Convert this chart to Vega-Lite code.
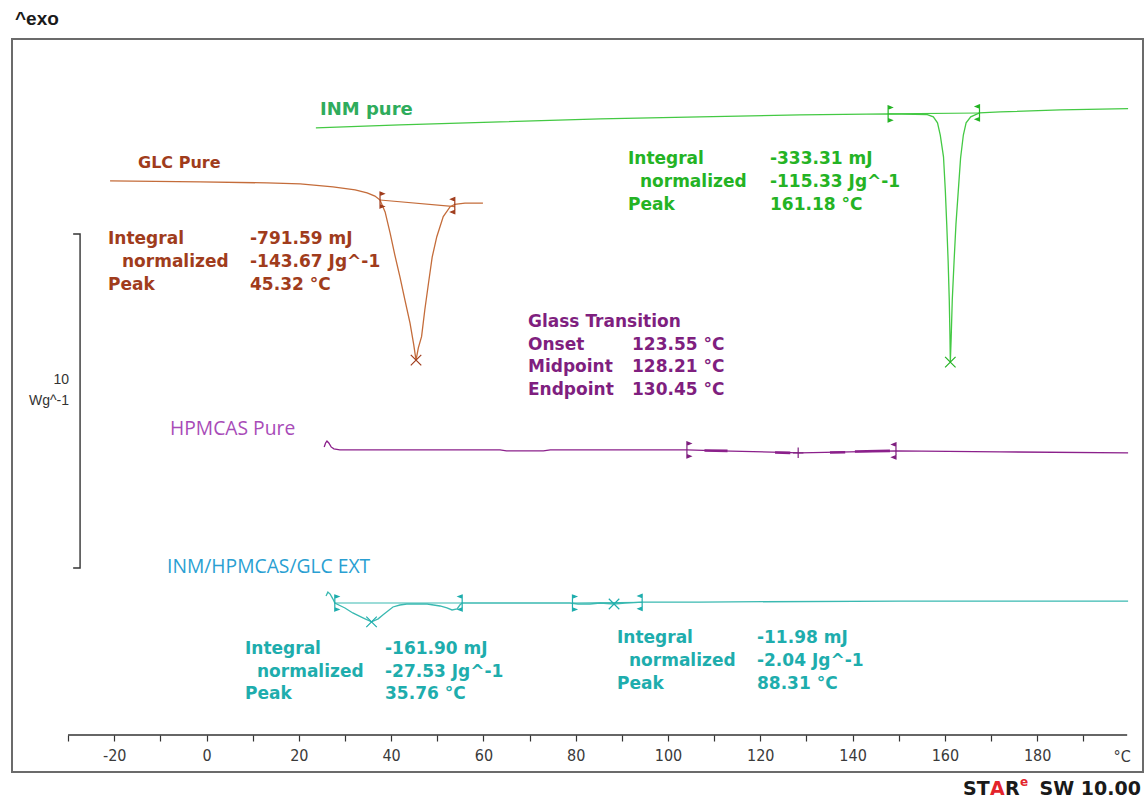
{
 "$schema": "https://vega.github.io/schema/vega-lite/v6.json",
 "width": 1131,
 "height": 733,
 "autosize": {"type": "none"},
 "padding": {"left": 12, "top": 39, "right": 2, "bottom": 28},
 "background": "white",
 "config": {"view": {"stroke": "#6b6b6b", "strokeWidth": 2}},
 "datasets": {
  "curves": [
   {"s":"GLC","T":-20.9,"y":17.91},{"s":"GLC","T":-1.4,"y":17.88},{"s":"GLC","T":13.1,"y":17.85},{"s":"GLC","T":20.3,"y":17.82},{"s":"GLC","T":27.4,"y":17.73},{"s":"GLC","T":32.2,"y":17.64},{"s":"GLC","T":34.8,"y":17.55},{"s":"GLC","T":36.5,"y":17.45},{"s":"GLC","T":37.6,"y":17.33},{"s":"GLC","T":38.7,"y":16.97},{"s":"GLC","T":39.8,"y":16.32},{"s":"GLC","T":40.8,"y":15.67},{"s":"GLC","T":41.9,"y":15.01},{"s":"GLC","T":43.0,"y":14.3},{"s":"GLC","T":44.1,"y":13.6},{"s":"GLC","T":44.9,"y":12.95},{"s":"GLC","T":45.4,"y":12.48},{"s":"GLC","T":45.9,"y":12.85},{"s":"GLC","T":46.6,"y":13.19},{"s":"GLC","T":47.3,"y":14.0},{"s":"GLC","T":48.1,"y":14.81},{"s":"GLC","T":48.9,"y":15.6},{"s":"GLC","T":49.9,"y":16.22},{"s":"GLC","T":51.3,"y":16.83},{"s":"GLC","T":52.8,"y":17.13},{"s":"GLC","T":53.8,"y":17.2},{"s":"GLC","T":56,"y":17.24},{"s":"GLC","T":59.9,"y":17.24},
   {"s":"INM","T":23.7,"y":19.52},{"s":"INM","T":41.9,"y":19.61},{"s":"INM","T":63.6,"y":19.7},{"s":"INM","T":85.3,"y":19.79},{"s":"INM","T":106.9,"y":19.85},{"s":"INM","T":128.6,"y":19.91},{"s":"INM","T":147.7,"y":19.94},{"s":"INM","T":156.2,"y":19.92},{"s":"INM","T":157.5,"y":19.85},{"s":"INM","T":158.4,"y":19.67},{"s":"INM","T":159.0,"y":19.3},{"s":"INM","T":159.7,"y":18.64},{"s":"INM","T":160.1,"y":17.6},{"s":"INM","T":160.4,"y":16.6},{"s":"INM","T":160.7,"y":15.5},{"s":"INM","T":160.95,"y":14.3},{"s":"INM","T":161.1,"y":13.2},{"s":"INM","T":161.18,"y":12.42},{"s":"INM","T":161.35,"y":13.1},{"s":"INM","T":161.6,"y":14.3},{"s":"INM","T":162.0,"y":15.5},{"s":"INM","T":162.4,"y":16.6},{"s":"INM","T":162.9,"y":17.6},{"s":"INM","T":163.4,"y":18.6},{"s":"INM","T":164.0,"y":19.3},{"s":"INM","T":164.6,"y":19.67},{"s":"INM","T":165.6,"y":19.85},{"s":"INM","T":167.5,"y":19.97},{"s":"INM","T":172,"y":20.0},{"s":"INM","T":185,"y":20.06},{"s":"INM","T":199.7,"y":20.1},
   {"s":"HPM","T":25.5,"y":9.85},{"s":"HPM","T":25.8,"y":9.97},{"s":"HPM","T":26.1,"y":10.03},{"s":"HPM","T":26.5,"y":9.97},{"s":"HPM","T":27.0,"y":9.85},{"s":"HPM","T":27.6,"y":9.79},{"s":"HPM","T":28.9,"y":9.76},{"s":"HPM","T":63.6,"y":9.76},{"s":"HPM","T":65,"y":9.73},{"s":"HPM","T":73,"y":9.73},{"s":"HPM","T":74.5,"y":9.76},{"s":"HPM","T":104.1,"y":9.76},{"s":"HPM","T":111.3,"y":9.73},{"s":"HPM","T":128.6,"y":9.67},{"s":"HPM","T":139.4,"y":9.7},{"s":"HPM","T":149.4,"y":9.73},{"s":"HPM","T":171.9,"y":9.7},{"s":"HPM","T":199.7,"y":9.67},
   {"s":"EXT","T":25.9,"y":5.33},{"s":"EXT","T":26.3,"y":5.45},{"s":"EXT","T":26.8,"y":5.39},{"s":"EXT","T":27.4,"y":5.24},{"s":"EXT","T":27.8,"y":5.12},{"s":"EXT","T":30.0,"y":4.97},{"s":"EXT","T":31.7,"y":4.82},{"s":"EXT","T":33.9,"y":4.67},{"s":"EXT","T":35.76,"y":4.55},{"s":"EXT","T":37.2,"y":4.64},{"s":"EXT","T":38.2,"y":4.76},{"s":"EXT","T":39.3,"y":4.88},{"s":"EXT","T":40.4,"y":5.0},{"s":"EXT","T":41.9,"y":5.06},{"s":"EXT","T":43.4,"y":5.09},{"s":"EXT","T":47.8,"y":5.09},{"s":"EXT","T":50.6,"y":5.03},{"s":"EXT","T":52.1,"y":4.97},{"s":"EXT","T":53.2,"y":4.91},{"s":"EXT","T":54.3,"y":4.94},{"s":"EXT","T":54.9,"y":5.06},{"s":"EXT","T":55.4,"y":5.12},{"s":"EXT","T":56.4,"y":5.12},{"s":"EXT","T":78.8,"y":5.12},{"s":"EXT","T":80.5,"y":5.09},{"s":"EXT","T":83.1,"y":5.09},{"s":"EXT","T":85.3,"y":5.12},{"s":"EXT","T":88.3,"y":5.09},{"s":"EXT","T":90.7,"y":5.12},{"s":"EXT","T":94.4,"y":5.15},{"s":"EXT","T":106.9,"y":5.15},{"s":"EXT","T":150.3,"y":5.18},{"s":"EXT","T":199.7,"y":5.18}
  ],
  "baselines": [
   {"s":"GLC","g":"g1","T":37.6,"y":17.33},{"s":"GLC","g":"g1","T":53.8,"y":17.13},
   {"s":"INM","g":"i1","T":147.7,"y":19.94},{"s":"INM","g":"i1","T":167.5,"y":19.97},
   {"s":"EXT","g":"e1","T":27.8,"y":5.12},{"s":"EXT","g":"e1","T":55.4,"y":5.12},
   {"s":"EXT","g":"e2","T":79.3,"y":5.12},{"s":"EXT","g":"e2","T":94.4,"y":5.14}
  ],
  "tangents": [
   {"s":"HPM","g":"t1","T":107.9,"y":9.74},{"s":"HPM","g":"t1","T":112.9,"y":9.73},
   {"s":"HPM","g":"t2","T":123.2,"y":9.68},{"s":"HPM","g":"t2","T":126.5,"y":9.67},
   {"s":"HPM","g":"t3","T":135.1,"y":9.68},{"s":"HPM","g":"t3","T":138.4,"y":9.69},
   {"s":"HPM","g":"t4","T":140.5,"y":9.71},{"s":"HPM","g":"t4","T":148.1,"y":9.73}
  ],
  "limits": [
   {"s":"GLC","kind":"L","T":37.6,"y":17.33},{"s":"GLC","kind":"R","T":53.8,"y":17.16},
   {"s":"INM","kind":"L","T":147.7,"y":19.94},{"s":"INM","kind":"R","T":167.5,"y":19.97},
   {"s":"HPM","kind":"L","T":104.1,"y":9.76},{"s":"HPM","kind":"R","T":149.4,"y":9.73},
   {"s":"EXT","kind":"L","T":27.8,"y":5.12},{"s":"EXT","kind":"R","T":55.4,"y":5.12},
   {"s":"EXT","kind":"L","T":79.3,"y":5.12},{"s":"EXT","kind":"R","T":94.4,"y":5.14}
  ],
  "peaks": [
   {"s":"GLC","kind":"X","T":45.4,"y":12.48},{"s":"INM","kind":"X","T":161.18,"y":12.42},
   {"s":"EXT","kind":"X","T":35.76,"y":4.55},{"s":"EXT","kind":"X","T":88.31,"y":5.09},
   {"s":"HPM","kind":"P","T":128.21,"y":9.67}
  ],
  "scalebar": [
   {"T":-28.9,"y":16.3,"i":0},{"T":-27.4,"y":16.3,"i":1},{"T":-27.4,"y":6.18,"i":2},{"T":-28.9,"y":6.18,"i":3}
  ],
  "axisline": [{"T":-30,"T2":199.5,"y":1.12}],
  "texts": [
   {"k":"ann","c":"GLC-t","t":"Integral","T":-21.34,"y":16.15},
   {"k":"ann","c":"GLC-t","t":"normalized","T":-18.31,"y":15.45},
   {"k":"ann","c":"GLC-t","t":"Peak","T":-21.34,"y":14.76},
   {"k":"ann","c":"GLC-t","t":"-791.59 mJ","T":9.43,"y":16.15},
   {"k":"ann","c":"GLC-t","t":"-143.67 Jg^-1","T":9.43,"y":15.45},
   {"k":"ann","c":"GLC-t","t":"45.32 °C","T":9.43,"y":14.76},
   {"k":"ann","c":"INM-t","t":"Integral","T":91.33,"y":18.58},
   {"k":"ann","c":"INM-t","t":"normalized","T":93.93,"y":17.88},
   {"k":"ann","c":"INM-t","t":"Peak","T":91.33,"y":17.18},
   {"k":"ann","c":"INM-t","t":"-333.31 mJ","T":122.1,"y":18.58},
   {"k":"ann","c":"INM-t","t":"-115.33 Jg^-1","T":122.1,"y":17.88},
   {"k":"ann","c":"INM-t","t":"161.18 °C","T":122.1,"y":17.18},
   {"k":"ann","c":"HPM-t","t":"Glass Transition","T":69.66,"y":13.64},
   {"k":"ann","c":"HPM-t","t":"Onset","T":69.66,"y":12.94},
   {"k":"ann","c":"HPM-t","t":"Midpoint","T":69.66,"y":12.27},
   {"k":"ann","c":"HPM-t","t":"Endpoint","T":69.66,"y":11.58},
   {"k":"ann","c":"HPM-t","t":"123.55 °C","T":92.2,"y":12.94},
   {"k":"ann","c":"HPM-t","t":"128.21 °C","T":92.2,"y":12.27},
   {"k":"ann","c":"HPM-t","t":"130.45 °C","T":92.2,"y":11.58},
   {"k":"ann","c":"EXT-t","t":"Integral","T":8.34,"y":3.73},
   {"k":"ann","c":"EXT-t","t":"normalized","T":10.94,"y":3.03},
   {"k":"ann","c":"EXT-t","t":"Peak","T":8.34,"y":2.36},
   {"k":"ann","c":"EXT-t","t":"-161.90 mJ","T":38.68,"y":3.73},
   {"k":"ann","c":"EXT-t","t":"-27.53 Jg^-1","T":38.68,"y":3.03},
   {"k":"ann","c":"EXT-t","t":"35.76 °C","T":38.68,"y":2.36},
   {"k":"ann","c":"EXT-t","t":"Integral","T":88.95,"y":4.06},
   {"k":"ann","c":"EXT-t","t":"normalized","T":91.55,"y":3.36},
   {"k":"ann","c":"EXT-t","t":"Peak","T":88.95,"y":2.67},
   {"k":"ann","c":"EXT-t","t":"-11.98 mJ","T":119.28,"y":4.06},
   {"k":"ann","c":"EXT-t","t":"-2.04 Jg^-1","T":119.28,"y":3.36},
   {"k":"ann","c":"EXT-t","t":"88.31 °C","T":119.28,"y":2.67},
   {"k":"lab1","c":"GLC-t","t":"GLC Pure","T":-14.84,"y":18.45},
   {"k":"lab2","c":"INM-l","t":"INM pure","T":24.6,"y":20.06},
   {"k":"lab3","c":"HPM-l","t":"HPMCAS Pure","T":-7.91,"y":10.39},
   {"k":"lab3","c":"EXT-l","t":"INM/HPMCAS/GLC EXT","T":-8.56,"y":6.21},
   {"k":"bar","c":"G","t":"10","T":-29.8,"y":11.88},
   {"k":"bar","c":"G","t":"Wg^-1","T":-29.8,"y":11.24},
   {"k":"exo","c":"K","t":"^exo","T":-41.5,"y":22.82},
   {"k":"deg","c":"G","t":"°C","T":198.4,"y":0.45},
   {"k":"star","c":"K","t":"ST","T":163.92,"y":-0.515},
   {"k":"star","c":"R","t":"A","T":169.77,"y":-0.515},
   {"k":"star","c":"K","t":"R","T":173.02,"y":-0.515},
   {"k":"starE","c":"R","t":"e","T":176.27,"y":-0.3},
   {"k":"starR","c":"K","t":"SW 10.00","T":202.49,"y":-0.515}
  ]
 },
 "encoding": {
  "x": {"field":"T","type":"quantitative","scale":{"domain":[-42.15,202.93],"nice":false,"zero":false},
        "axis":{"orient":"bottom","offset":-37,"values":[-30,-20,-10,0,10,20,30,40,50,60,70,80,90,100,110,120,130,140,150,160,170,180,190],
                "domain":false,"grid":false,"tickSize":6,"tickColor":"#333333","tickWidth":1.2,
                "labelExpr":"(datum.value % 20 == 0 && datum.value >= -20) ? ('' + datum.value) : ''",
                "labelFont":"Liberation Sans Narrow, DejaVu Sans Condensed, Liberation Sans","labelFontSize":16,"labelColor":"#3a3a3a",
                "labelPadding":6,"labelOverlap":false,"labelFlush":false,"labelBound":false,"title":null}},
  "y": {"field":"y","type":"quantitative","scale":{"domain":[0,22.21],"nice":false,"zero":false},"axis":null}
 },
 "layer": [
  {"data":{"name":"axisline"},"mark":{"type":"rule","color":"#333333","strokeWidth":1.6},"encoding":{"x2":{"field":"T2"}}},
  {"data":{"name":"scalebar"},"mark":{"type":"line","color":"#333333","strokeWidth":1.4},"encoding":{"order":{"field":"i","type":"quantitative"}}},
  {"data":{"name":"baselines"},"mark":{"type":"line","strokeWidth":1.1},
   "encoding":{"detail":{"field":"g"},"color":{"field":"s","type":"nominal","legend":null,
     "scale":{"domain":["GLC","GLC-t","INM","INM-l","INM-t","HPM","HPM-l","HPM-t","EXT","EXT-l","EXT-t","K","G","R"],
              "range":["#c46c3a","#a03c1c","#44c944","#2fac5c","#24b324","#8b208b","#a84bb8","#7f1f7f","#3ab9b1","#2a9fd2","#1eadad","#1a1a1a","#333333","#e3242b"]}}}},
  {"data":{"name":"curves"},"mark":{"type":"line","strokeWidth":1.3},
   "encoding":{"color":{"field":"s","type":"nominal","legend":null,
     "scale":{"domain":["GLC","GLC-t","INM","INM-l","INM-t","HPM","HPM-l","HPM-t","EXT","EXT-l","EXT-t","K","G","R"],
              "range":["#c46c3a","#a03c1c","#44c944","#2fac5c","#24b324","#8b208b","#a84bb8","#7f1f7f","#3ab9b1","#2a9fd2","#1eadad","#1a1a1a","#333333","#e3242b"]}}}},
  {"data":{"name":"tangents"},"mark":{"type":"line","strokeWidth":2.6},
   "encoding":{"detail":{"field":"g"},"color":{"field":"s","type":"nominal","legend":null,
     "scale":{"domain":["GLC","GLC-t","INM","INM-l","INM-t","HPM","HPM-l","HPM-t","EXT","EXT-l","EXT-t","K","G","R"],
              "range":["#c46c3a","#a03c1c","#44c944","#2fac5c","#24b324","#8b208b","#a84bb8","#7f1f7f","#3ab9b1","#2a9fd2","#1eadad","#1a1a1a","#333333","#e3242b"]}}}},
  {"data":{"name":"limits"},"mark":{"type":"point","filled":true,"opacity":1,"strokeWidth":1.2,"size":256},
   "encoding":{
     "shape":{"field":"kind","type":"nominal","legend":null,"scale":{"domain":["L","R","X","P"],"range":["M0,-1L0,1M0,-1L0.5,-0.8L0,-0.6ZM0,1L0.5,0.8L0,0.6Z","M0,-1L0,1M0,-1L-0.5,-0.8L0,-0.6ZM0,1L-0.5,0.8L0,0.6Z","M-1,-1L1,1M-1,1L1,-1","M-1,0L1,0M0,-1L0,1"]}},
     "fill":{"field":"s","type":"nominal","legend":null,"scale":{"domain":["GLC","INM","HPM","EXT"],"range":["#a03c1c","#24b324","#7f1f7f","#1eadad"]}},
     "stroke":{"field":"s","type":"nominal","legend":null,"scale":{"domain":["GLC","INM","HPM","EXT"],"range":["#a03c1c","#24b324","#7f1f7f","#1eadad"]}}}},
  {"data":{"name":"peaks"},"mark":{"type":"point","filled":false,"opacity":1,"strokeWidth":1.2,"size":110},
   "encoding":{
     "shape":{"field":"kind","type":"nominal","legend":null,"scale":{"domain":["L","R","X","P"],"range":["M0,-1L0,1M0,-1L0.5,-0.8L0,-0.6ZM0,1L0.5,0.8L0,0.6Z","M0,-1L0,1M0,-1L-0.5,-0.8L0,-0.6ZM0,1L-0.5,0.8L0,0.6Z","M-1,-1L1,1M-1,1L1,-1","M-1,0L1,0M0,-1L0,1"]}},
     "stroke":{"field":"s","type":"nominal","legend":null,"scale":{"domain":["GLC","INM","HPM","EXT"],"range":["#a03c1c","#24b324","#7f1f7f","#1eadad"]}}}},
  {"data":{"name":"texts"},"transform":[{"filter":"datum.k == 'ann'"}],
   "mark":{"type":"text","align":"left","baseline":"middle","font":"DejaVu Sans","fontWeight":"bold","fontSize":17},
   "encoding":{"text":{"field":"t"},"color":{"field":"c","type":"nominal","legend":null,
     "scale":{"domain":["GLC","GLC-t","INM","INM-l","INM-t","HPM","HPM-l","HPM-t","EXT","EXT-l","EXT-t","K","G","R"],
              "range":["#c46c3a","#a03c1c","#44c944","#2fac5c","#24b324","#8b208b","#a84bb8","#7f1f7f","#3ab9b1","#2a9fd2","#1eadad","#1a1a1a","#333333","#e3242b"]}}}},
  {"data":{"name":"texts"},"transform":[{"filter":"datum.k == 'lab1'"}],
   "mark":{"type":"text","align":"left","baseline":"middle","font":"DejaVu Sans","fontWeight":"bold","fontSize":16},
   "encoding":{"text":{"field":"t"},"color":{"field":"c","type":"nominal","legend":null,
     "scale":{"domain":["GLC","GLC-t","INM","INM-l","INM-t","HPM","HPM-l","HPM-t","EXT","EXT-l","EXT-t","K","G","R"],
              "range":["#c46c3a","#a03c1c","#44c944","#2fac5c","#24b324","#8b208b","#a84bb8","#7f1f7f","#3ab9b1","#2a9fd2","#1eadad","#1a1a1a","#333333","#e3242b"]}}}},
  {"data":{"name":"texts"},"transform":[{"filter":"datum.k == 'lab2'"}],
   "mark":{"type":"text","align":"left","baseline":"middle","font":"DejaVu Sans","fontWeight":"bold","fontSize":18},
   "encoding":{"text":{"field":"t"},"color":{"field":"c","type":"nominal","legend":null,
     "scale":{"domain":["GLC","GLC-t","INM","INM-l","INM-t","HPM","HPM-l","HPM-t","EXT","EXT-l","EXT-t","K","G","R"],
              "range":["#c46c3a","#a03c1c","#44c944","#2fac5c","#24b324","#8b208b","#a84bb8","#7f1f7f","#3ab9b1","#2a9fd2","#1eadad","#1a1a1a","#333333","#e3242b"]}}}},
  {"data":{"name":"texts"},"transform":[{"filter":"datum.k == 'lab3'"}],
   "mark":{"type":"text","align":"left","baseline":"middle","font":"Open Sans","fontWeight":"normal","fontSize":19.3},
   "encoding":{"text":{"field":"t"},"color":{"field":"c","type":"nominal","legend":null,
     "scale":{"domain":["GLC","GLC-t","INM","INM-l","INM-t","HPM","HPM-l","HPM-t","EXT","EXT-l","EXT-t","K","G","R"],
              "range":["#c46c3a","#a03c1c","#44c944","#2fac5c","#24b324","#8b208b","#a84bb8","#7f1f7f","#3ab9b1","#2a9fd2","#1eadad","#1a1a1a","#333333","#e3242b"]}}}},
  {"data":{"name":"texts"},"transform":[{"filter":"datum.k == 'bar'"}],
   "mark":{"type":"text","align":"right","baseline":"middle","font":"Liberation Sans","fontSize":14,"color":"#333333"},
   "encoding":{"text":{"field":"t"}}},
  {"data":{"name":"texts"},"transform":[{"filter":"datum.k == 'exo'"}],
   "mark":{"type":"text","align":"left","baseline":"middle","font":"Liberation Sans","fontWeight":"bold","fontSize":19,"color":"#1a1a1a"},
   "encoding":{"text":{"field":"t"}}},
  {"data":{"name":"texts"},"transform":[{"filter":"datum.k == 'deg'"}],
   "mark":{"type":"text","align":"center","baseline":"middle","font":"Liberation Sans Narrow, DejaVu Sans Condensed, Liberation Sans","fontSize":16,"color":"#3a3a3a"},
   "encoding":{"text":{"field":"t"}}},
  {"data":{"name":"texts"},"transform":[{"filter":"datum.k == 'star'"}],
   "mark":{"type":"text","align":"left","baseline":"middle","font":"DejaVu Sans","fontWeight":"bold","fontSize":19},
   "encoding":{"text":{"field":"t"},"color":{"field":"c","type":"nominal","legend":null,
     "scale":{"domain":["GLC","GLC-t","INM","INM-l","INM-t","HPM","HPM-l","HPM-t","EXT","EXT-l","EXT-t","K","G","R"],
              "range":["#c46c3a","#a03c1c","#44c944","#2fac5c","#24b324","#8b208b","#a84bb8","#7f1f7f","#3ab9b1","#2a9fd2","#1eadad","#1a1a1a","#333333","#e3242b"]}}}},
  {"data":{"name":"texts"},"transform":[{"filter":"datum.k == 'starE'"}],
   "mark":{"type":"text","align":"left","baseline":"middle","font":"DejaVu Sans","fontWeight":"bold","fontSize":12,"color":"#e3242b"},
   "encoding":{"text":{"field":"t"}}},
  {"data":{"name":"texts"},"transform":[{"filter":"datum.k == 'starR'"}],
   "mark":{"type":"text","align":"right","baseline":"middle","font":"DejaVu Sans","fontWeight":"bold","fontSize":19,"color":"#1a1a1a"},
   "encoding":{"text":{"field":"t"}}}
 ]
}
